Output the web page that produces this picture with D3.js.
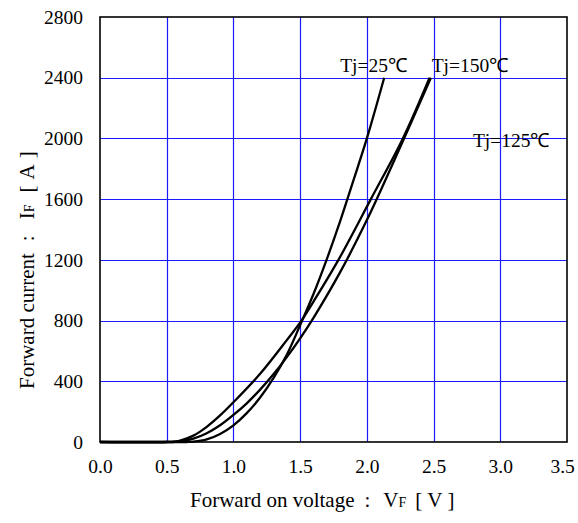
<!DOCTYPE html>
<html><head><meta charset="utf-8">
<script src="https://cdnjs.cloudflare.com/ajax/libs/d3/7.8.5/d3.min.js"></script>
<style>body{margin:0;background:#fff}svg{display:block}</style>
</head><body><svg id="c" width="578" height="523"></svg>
<script>
const xTicks = [0.0,0.5,1.0,1.5,2.0,2.5,3.0,3.5];
const yTicks = [0,400,800,1200,1600,2000,2400,2800];
const vf25  = [0,0.5,0.65,0.7,0.8,0.9,1.0,1.1,1.2,1.3,1.4,1.5,1.6,1.7,1.8,1.9,2.0,2.13];
const if25  = [0,0,0,2,17,53,110,190,293,421,575,770,975,1205,1455,1725,2000,2400];
const vf125 = [0,0.5,0.55,0.6,0.7,0.8,0.9,1.0,1.1,1.2,1.3,1.4,1.5,1.6,1.8,2.0,2.2,2.48];
const if125 = [0,0,0,3,22,58,110,178,255,345,446,559,683,818,1119,1462,1845,2400];
const vf150 = [0,0.5,0.6,0.7,0.8,0.9,1.0,1.2,1.4,1.51,1.6,1.787,2.03,2.27,2.47];
const if150 = [0,0,9,42,100,175,262,449,671,800,925,1200,1600,2000,2400];
const labels = [
  {t:"Tj=25℃", v:1.80, i:2435},
  {t:"Tj=150℃", v:2.486, i:2435},
  {t:"Tj=125℃", v:2.795, i:1945}
];

const svg = d3.select("#c");
const x = d3.scaleLinear().domain([0,3.5]).range([100,567]);
const y = d3.scaleLinear().domain([0,2800]).range([442,17]);
const font = "'Liberation Serif','Times New Roman',serif";
const FS = 19.5;

const g = svg.append("g");
g.selectAll(".gx").data(xTicks.slice(1,-1)).enter().append("line")
  .attr("x1",d=>Math.round(x(d))+0.5).attr("x2",d=>Math.round(x(d))+0.5)
  .attr("y1",y(0)).attr("y2",y(2800)).attr("stroke","#1a1aff").attr("stroke-width",1.2);
g.selectAll(".gy").data(yTicks.slice(1,-1)).enter().append("line")
  .attr("y1",d=>Math.round(y(d))+0.5).attr("y2",d=>Math.round(y(d))+0.5)
  .attr("x1",x(0)).attr("x2",x(3.5)).attr("stroke","#1a1aff").attr("stroke-width",1.2);
g.append("rect").attr("x",x(0)).attr("y",y(2800)).attr("width",x(3.5)-x(0)).attr("height",y(0)-y(2800))
  .attr("fill","none").attr("stroke","#000").attr("stroke-width",1.6);

const ax = d3.axisBottom(x).tickValues(xTicks).tickFormat(d3.format(".1f")).tickSize(0).tickPadding(17);
svg.append("g").attr("transform",`translate(0,${y(0)})`).call(ax)
  .call(s=>s.select(".domain").remove())
  .selectAll("text").attr("font-family",font).attr("font-size",FS).attr("fill","#000")
  .attr("dx",d=>d===3.5?"-0.25em":null);
const ay = d3.axisLeft(y).tickValues(yTicks).tickFormat(d3.format("d")).tickSize(0).tickPadding(17);
svg.append("g").attr("transform",`translate(${x(0)},0)`).call(ay)
  .call(s=>s.select(".domain").remove())
  .selectAll("text").attr("font-family",font).attr("font-size",FS).attr("fill","#000");

const line = d3.line().x(d=>x(d[0])).y(d=>y(d[1])).curve(d3.curveCatmullRom.alpha(0.5));
[[vf25,if25],[vf125,if125],[vf150,if150]].forEach(([v,i])=>{
  svg.append("path").datum(v.map((vv,k)=>[vv,i[k]])).attr("d",line)
    .attr("fill","none").attr("stroke","#000").attr("stroke-width",2.3);
});

svg.selectAll(".lab").data(labels).enter().append("text")
  .attr("x",d=>x(d.v)).attr("y",d=>y(d.i)).attr("font-family",font).attr("font-size",19.5)
  .attr("fill","#000").text(d=>d.t);

const TS = 21, SUB = 14;
const xt = svg.append("text").attr("x",190).attr("y",507)
  .attr("font-family",font).attr("font-size",TS).attr("fill","#000");
xt.append("tspan").text("Forward on voltage");
xt.append("tspan").attr("dx",10).text(":");
xt.append("tspan").attr("dx",13).text("V");
xt.append("tspan").attr("font-size",SUB).text("F");
xt.append("tspan").attr("dx",9).text("[");
xt.append("tspan").attr("dx",5).text("V");
xt.append("tspan").attr("dx",5).text("]");

const yt = svg.append("text").attr("transform","translate(34,389) rotate(-90)")
  .attr("font-family",font).attr("font-size",TS).attr("fill","#000");
yt.append("tspan").text("Forward current");
yt.append("tspan").attr("dx",12).text(":");
yt.append("tspan").attr("dx",16).text("I");
yt.append("tspan").attr("font-size",SUB).text("F");
yt.append("tspan").attr("dx",12).text("[");
yt.append("tspan").attr("dx",6).text("A");
yt.append("tspan").attr("dx",6).text("]");
</script>
</body></html>
